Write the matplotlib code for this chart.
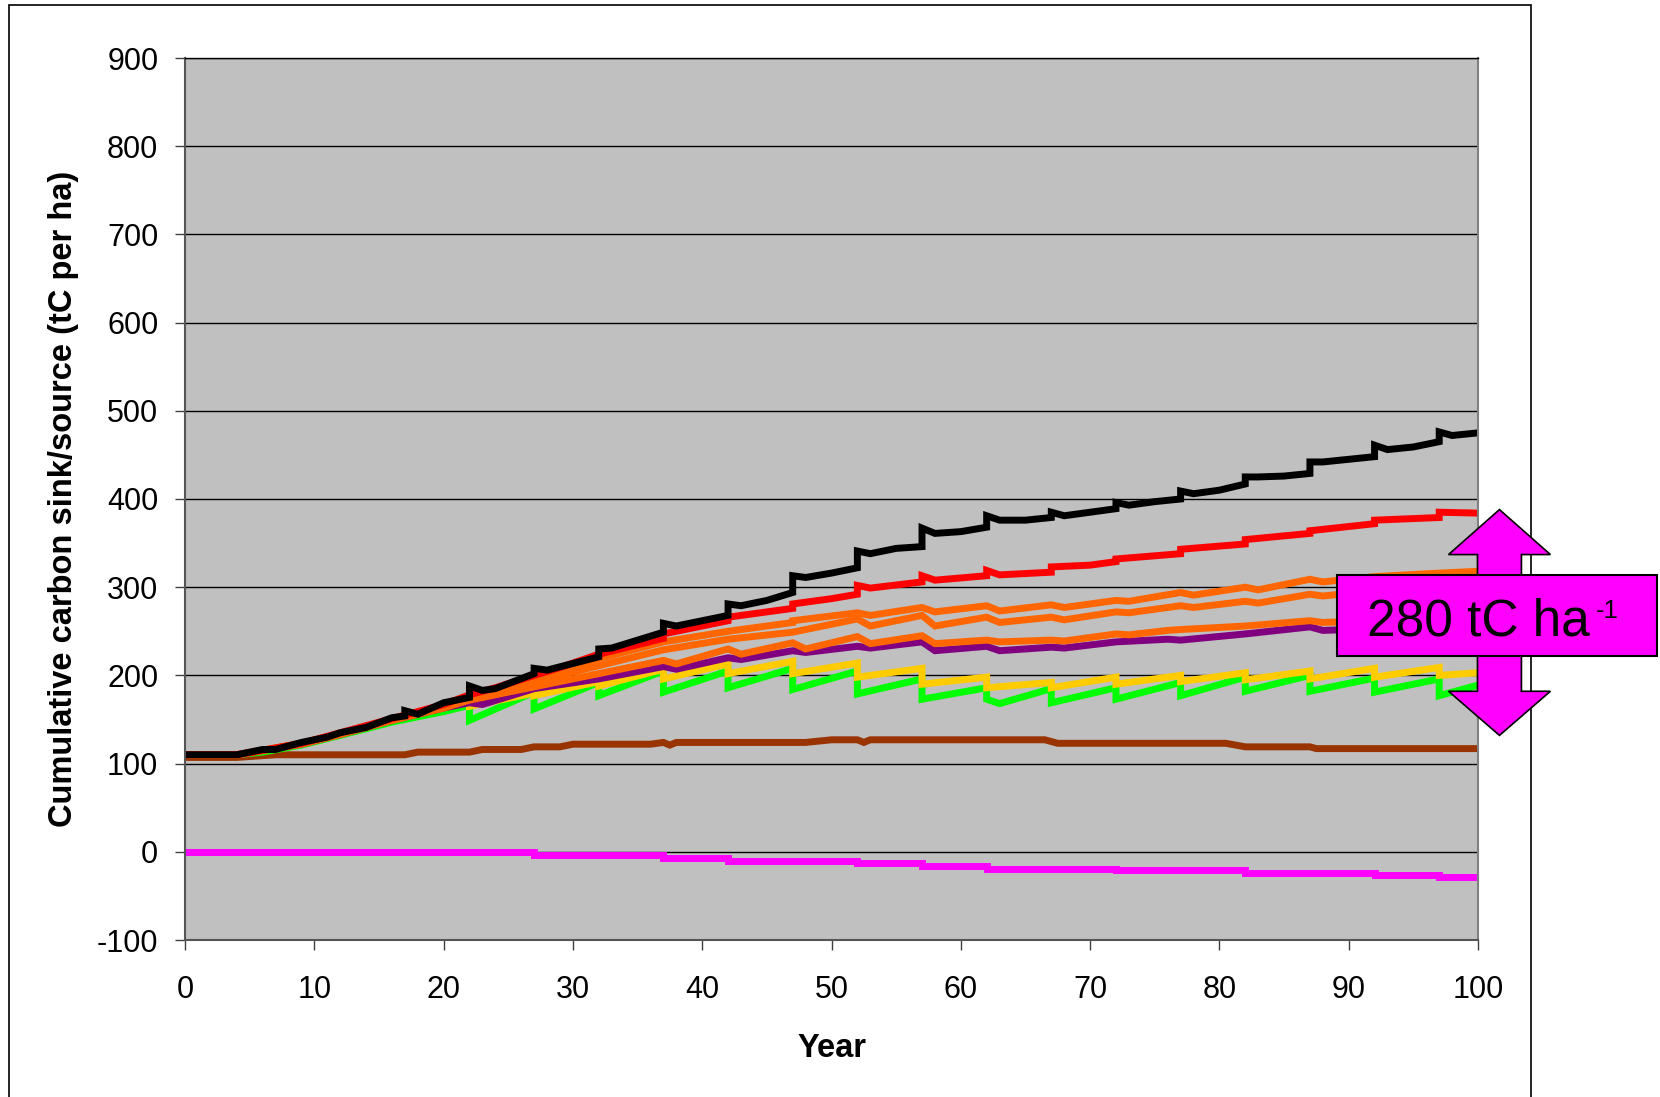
import matplotlib.pyplot as plt
import matplotlib.patches as mpatches

plt.rcParams['font.family'] = ['Liberation Sans', 'DejaVu Sans']
plt.rcParams['axes.unicode_minus'] = False

# Series (year, tC per ha); repeated years are the vertical jumps
black_x = [0, 4, 6, 7, 9, 11, 12, 14, 16, 17, 17, 18, 20, 22, 22, 23, 24, 27, 27, 28, 32, 32, 33, 35,
           37, 37, 38, 40, 42, 42, 43, 45, 47, 47, 48, 50, 52, 52, 53, 55, 57, 57, 58, 60, 62, 62, 63,
           65, 67, 67, 68, 70, 72, 72, 73, 75, 77, 77, 78, 80, 82, 82, 83, 85, 87, 87, 88, 90, 92, 92,
           93, 95, 97, 97, 98, 100]
black_y = [110, 110, 116, 116, 124, 130, 135, 141, 152, 154, 160, 156, 169, 175, 188, 183, 185, 202, 208, 206, 221, 230, 231, 240,
           249, 259, 256, 262, 268, 281, 279, 285, 294, 313, 311, 316, 322, 341, 338, 344, 346, 367, 361, 363, 368, 381, 376,
           376, 379, 385, 381, 385, 389, 396, 393, 397, 400, 409, 406, 410, 417, 425, 425, 426, 429, 442, 442, 445, 448, 461,
           456, 459, 465, 476, 472, 475]

red_x = [0, 4, 6, 9, 12, 16, 20, 22, 24, 27, 29, 32, 37, 37, 42, 42, 47, 47, 50, 52, 52, 53, 57, 57, 58,
         62, 62, 63, 67, 67, 70, 72, 72, 77, 77, 82, 82, 87, 87, 92, 92, 97, 97, 100]
red_y = [110, 110, 115, 123, 135, 151, 167, 178, 186, 200, 209, 224, 242, 247, 262, 266, 276, 281, 287, 292, 302, 299, 306, 313, 308,
         313, 319, 314, 317, 323, 325, 329, 332, 338, 343, 349, 354, 361, 364, 372, 376, 379, 385, 384]

orange1_x = [0, 4, 9, 12, 16, 20, 22, 27, 32, 37, 42, 47, 47, 52, 53, 57, 58, 62, 63, 67, 68, 72, 73,
             77, 78, 82, 83, 87, 88, 92, 97, 100]
orange1_y = [110, 110, 123, 134, 150, 166, 177, 197, 219, 238, 250, 260, 262, 271, 268, 277, 272, 279, 273, 280, 277, 285, 284,
             294, 291, 300, 297, 309, 306, 312, 316, 318]

orange2_x = [0, 4, 9, 12, 16, 20, 22, 27, 32, 37, 42, 47, 52, 53, 57, 58, 62, 63, 67, 68, 72, 73,
             77, 78, 82, 83, 87, 88, 92, 97, 100]
orange2_y = [110, 110, 123, 134, 150, 165, 175, 193, 211, 229, 241, 249, 264, 256, 268, 256, 266, 260, 266, 263, 272, 271,
             279, 277, 284, 282, 292, 290, 296, 300, 302]

orange3_x = [0, 4, 9, 12, 16, 20, 22, 27, 32, 37, 38, 42, 43, 47, 48, 52, 53, 57, 58, 62, 63, 67, 68,
             72, 73, 76, 77, 82, 87, 88, 92, 97, 100]
orange3_y = [110, 110, 122, 133, 149, 163, 172, 187, 202, 217, 213, 230, 224, 237, 230, 244, 236, 245, 236, 240, 238, 240, 239,
             247, 246, 251, 252, 256, 262, 260, 262, 265, 266]

purple_x = [0, 4, 9, 12, 16, 20, 22, 23, 27, 32, 37, 38, 42, 43, 47, 48, 52, 53, 57, 58, 62, 63, 67, 68,
            72, 76, 77, 82, 87, 88, 92, 97, 100]
purple_y = [110, 110, 122, 133, 149, 163, 169, 167, 185, 196, 210, 207, 220, 218, 228, 226, 233, 231, 238, 228, 233, 228, 232, 231,
            238, 241, 240, 247, 255, 251, 253, 256, 258]

yellow_x = [0, 4, 9, 12, 16, 20, 22, 22, 27, 27, 32, 32, 37, 37, 42, 42, 47, 47, 52, 52, 57, 57, 62, 62,
            67, 67, 72, 72, 77, 77, 82, 82, 87, 87, 92, 92, 97, 97, 100]
yellow_y = [110, 110, 122, 133, 149, 163, 172, 165, 180, 177, 193, 188, 207, 196, 213, 202, 216, 202, 214, 198, 208, 190, 198, 186,
            192, 186, 198, 190, 200, 193, 203, 195, 205, 196, 208, 198, 209, 200, 203]

green_x = [0, 4, 6, 9, 12, 16, 20, 22, 22, 27, 27, 32, 32, 37, 37, 42, 42, 47, 47, 52, 52, 57, 57, 62, 62, 63,
           67, 67, 72, 72, 77, 77, 82, 82, 87, 87, 92, 92, 97, 97, 100]
green_y = [110, 110, 113, 121, 132, 147, 159, 166, 149, 181, 162, 192, 177, 205, 181, 205, 186, 208, 184, 205, 179, 196, 173, 186, 173, 168,
           185, 169, 186, 173, 192, 177, 198, 182, 200, 182, 197, 181, 196, 177, 189]

brown_x = [0, 4, 7, 17, 18, 22, 23, 26, 27, 29, 30, 36, 37, 37.5, 38, 48, 50, 52, 52.5, 53, 66.5, 67.5,
           80.5, 82, 87, 87.5, 100]
brown_y = [107, 107, 110, 110, 113, 113, 116, 116, 119, 119, 122, 122, 124, 121, 124, 124, 127, 127, 124, 127, 127, 123,
           123, 119, 119, 117, 117]

magenta_x = [0, 27, 27, 37, 37, 42, 42, 52, 52, 57, 57, 62, 62, 72, 72, 82, 82, 92, 92, 97, 97, 100]
magenta_y = [0, 0, -4, -4, -7, -7, -10, -10, -13, -13, -16, -16, -19, -19, -21, -21, -24, -24, -26, -26, -29, -29]

# drawn bottom to top
series = [
    (magenta_x, magenta_y, '#FF00FF'),
    (brown_x, brown_y, '#993300'),
    (green_x, green_y, '#00FF00'),
    (yellow_x, yellow_y, '#FFCC00'),
    (purple_x, purple_y, '#800080'),
    (orange3_x, orange3_y, '#FF6600'),
    (orange2_x, orange2_y, '#FF6600'),
    (orange1_x, orange1_y, '#FF6600'),
    (red_x, red_y, '#FF0000'),
    (black_x, black_y, '#000000'),
]

W, H = 1660, 1097
fig = plt.figure(figsize=(W / 100, H / 100), dpi=100)
ax = fig.add_axes([185 / W, 1 - 940 / H, 1293 / W, 882 / H])
ax.set_facecolor('#C0C0C0')

for xs, ys, col in series:
    ax.plot(xs, ys, color=col, lw=5.0, solid_joinstyle='miter', solid_capstyle='butt')

ax.set_xlim(0, 100)
ax.set_ylim(-100, 900)
ax.set_xticks(range(0, 101, 10))
ax.set_yticks(range(-100, 901, 100))
ax.yaxis.grid(True, color='black', lw=1)
ax.set_axisbelow(True)
ax.tick_params(axis='both', direction='out', length=7.2, width=1, labelsize=22, colors='#404040', labelcolor='black')
ax.tick_params(axis='y', pad=12)
ax.tick_params(axis='x', pad=18)

for side in ['left', 'bottom']:
    ax.spines[side].set_color('#555555')
    ax.spines[side].set_linewidth(1.5)
ax.spines['right'].set_color('#808080')
ax.spines['right'].set_linewidth(1.5)
ax.spines['top'].set_color('black')
ax.spines['top'].set_linewidth(1)

ax.set_ylabel('Cumulative carbon sink/source (tC per ha)', fontsize=23.5, fontweight='bold')
ax.yaxis.set_label_coords(-0.082, 0.5)
ax.set_xlabel('Year', fontsize=23.5, fontweight='bold')
ax.xaxis.set_label_coords(0.5, -0.106)

# double-headed arrow and label box on the right
cx, sw, hw = 101.66, 1.70, 3.94
arrow = mpatches.Polygon([(cx, 388), (cx + hw, 337), (cx + sw, 337), (cx + sw, 182), (cx + hw, 182),
                          (cx, 132), (cx - hw, 182), (cx - sw, 182), (cx - sw, 337), (cx - hw, 337)],
                         closed=True, facecolor='#FF00FF', edgecolor='black', lw=1.2,
                         clip_on=False, zorder=5)
ax.add_patch(arrow)
box = mpatches.Rectangle((89.1, 222.4), 24.75, 91.9, facecolor='#FF00FF', edgecolor='black',
                         lw=1.5, clip_on=False, zorder=6)
ax.add_patch(box)
ax.text(91.4, 245, '280 tC ha', fontsize=37, ha='left', va='baseline', zorder=7, clip_on=False)
ax.text(109.1, 265, '-1', fontsize=18.5, ha='left', va='baseline', zorder=7, clip_on=False)

# outer chart border
border = mpatches.Rectangle((8.5 / W, -0.05), (1531 - 8.5) / W, 1.05 - 5 / H, transform=fig.transFigure,
                            fill=False, edgecolor='black', lw=1.2, zorder=-1)
fig.patches.append(border)

fig.savefig('out.png', dpi=100)
